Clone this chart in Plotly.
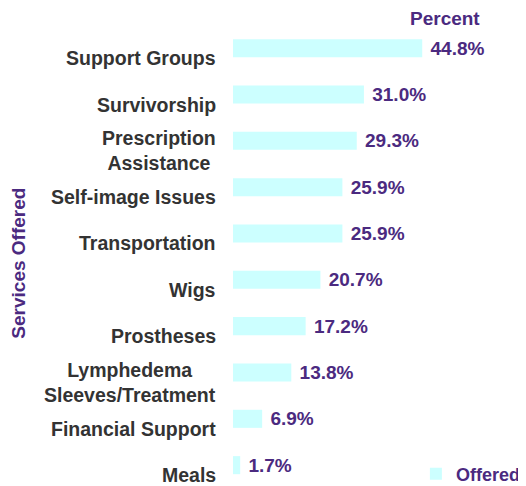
import plotly.graph_objects as go

categories = ["Support Groups", "Survivorship", "Prescription<br>Assistance",
              "Self-image Issues", "Transportation", "Wigs", "Prostheses",
              "Lymphedema<br>Sleeves/Treatment", "Financial Support", "Meals"]
values = [44.8, 31.0, 29.3, 25.9, 25.9, 20.7, 17.2, 13.8, 6.9, 1.7]
series_name = "Offered"
x_title = "Percent"
y_title = "Services Offered"

PURPLE = "#4B2A80"
GRAY = "#333333"
FONT = "Liberation Sans, Arial, sans-serif"

fig = go.Figure()
fig.add_trace(go.Bar(
    x=values, y=categories, orientation="h", name=series_name,
    marker=dict(color="#CCFFFF", line=dict(width=0)),
    texttemplate=" %{x:.1f}%", textposition="outside", cliponaxis=False,
    constraintext="none",
    textfont=dict(family=FONT, size=19, color=PURPLE, weight="bold"),
    showlegend=True,
))

for c in categories:
    fig.add_annotation(
        x=0, y=c, xref="x", yref="y", text=c, showarrow=False,
        xanchor="right", yanchor="middle", align="center",
        xshift=-15, yshift=-10,
        font=dict(family=FONT, size=19.5, color=GRAY, weight="bold"),
    )

fig.add_annotation(x=0.749, y=1.015, xref="paper", yref="paper", text=x_title,
                   showarrow=False, xanchor="center", yanchor="middle",
                   font=dict(family=FONT, size=19, color=PURPLE, weight="bold"))
fig.add_annotation(x=-0.757, y=0.484, xref="paper", yref="paper", text=y_title,
                   showarrow=False, xanchor="center", yanchor="middle", textangle=-90,
                   font=dict(family=FONT, size=19, color=PURPLE, weight="bold"))

fig.update_layout(
    width=518, height=478,
    margin=dict(l=225, r=10, t=17, b=0, autoexpand=False),
    paper_bgcolor="white", plot_bgcolor="white",
    bargap=0.61,
    xaxis=dict(range=[0, 67], visible=False, showgrid=False, zeroline=False),
    yaxis=dict(categoryorder="array", categoryarray=categories,
               range=[9.45, -0.5], showticklabels=False, showgrid=False,
               zeroline=False, showline=False, ticks=""),
    legend=dict(x=1.035, y=0.026, xanchor="right", yanchor="middle",
                bgcolor="rgba(0,0,0,0)", itemwidth=30, borderwidth=0,
                font=dict(family=FONT, size=18, color=PURPLE, weight="bold")),
    showlegend=True,
)

fig.write_html("out.html")
